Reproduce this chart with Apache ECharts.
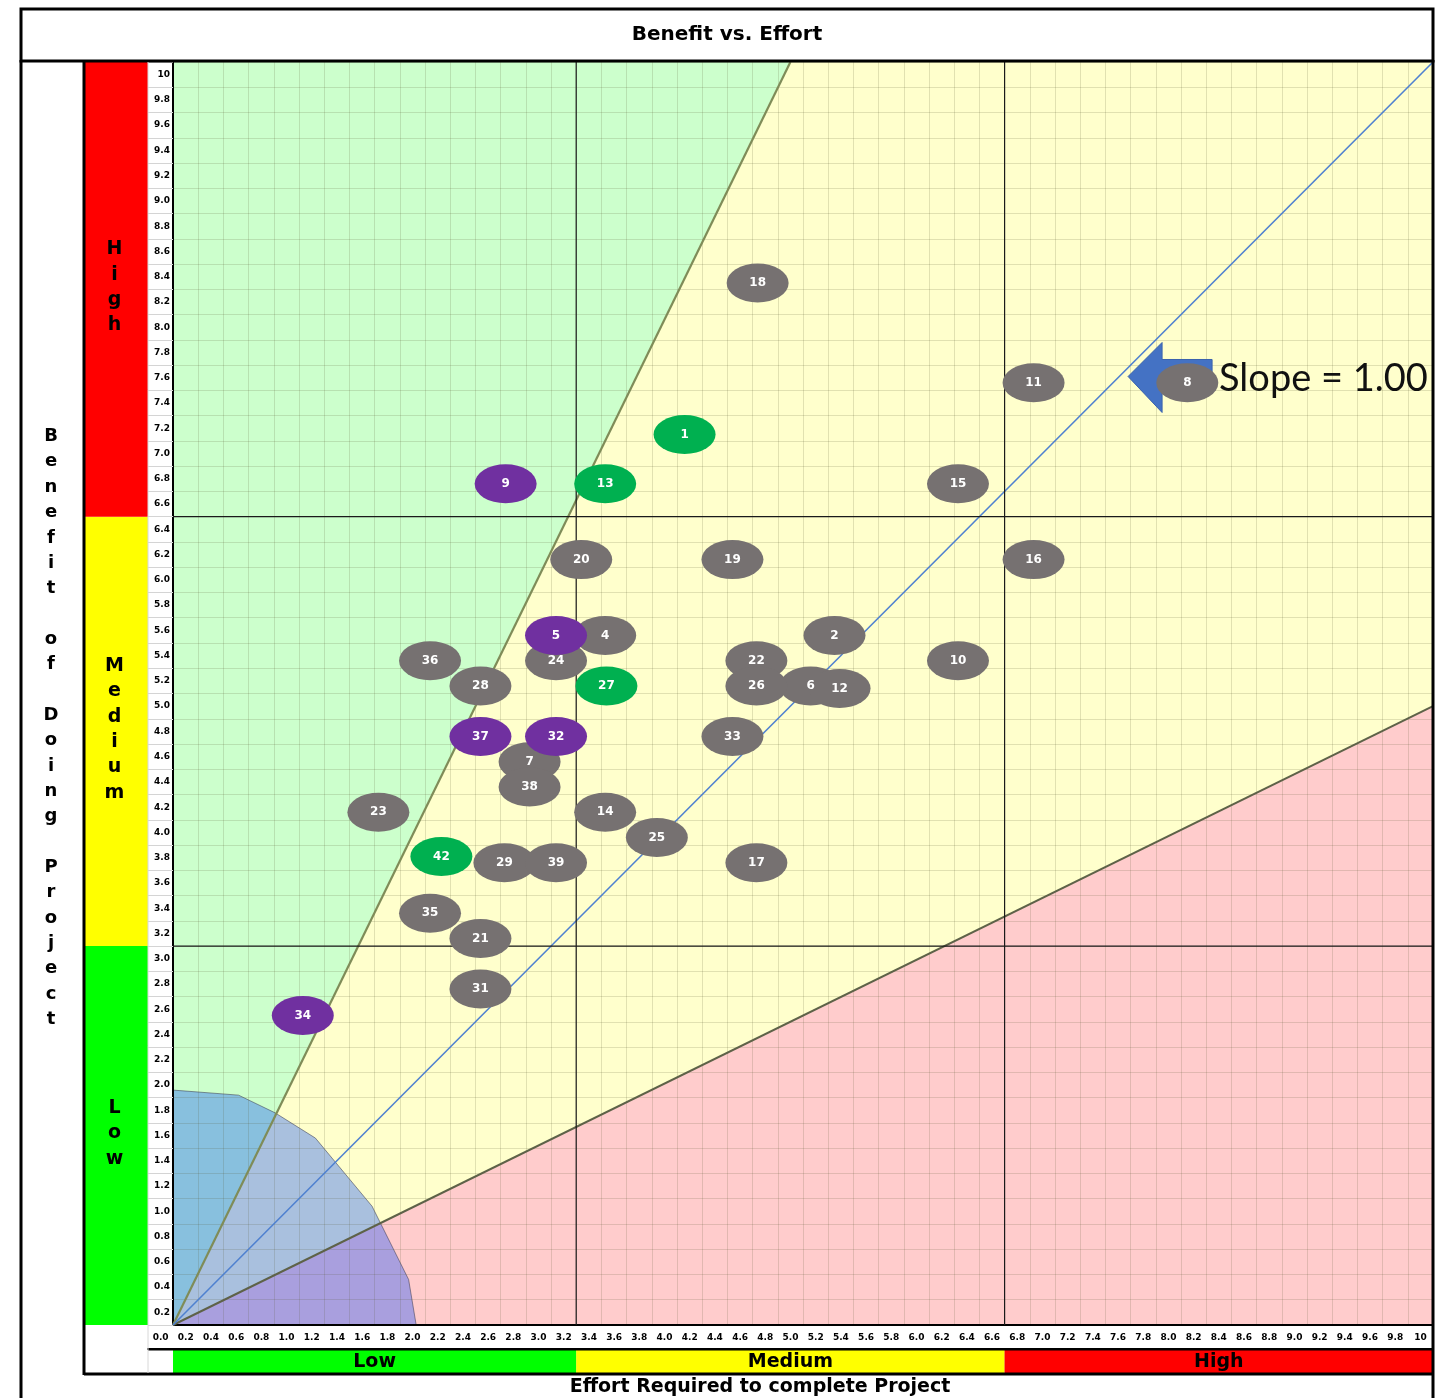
<!DOCTYPE html>
<html>
<head>
<meta charset="utf-8">
<title>Benefit vs. Effort</title>
<script src="https://cdn.jsdelivr.net/npm/echarts@6/dist/echarts.min.js"></script>
<style>
  html, body { margin: 0; padding: 0; background: #fff; }
  #chart { width: 1448px; height: 1398px; }
</style>
</head>
<body>
<div id="chart"></div>
<script>
// tick labels (spreadsheet style: each cell shows its upper edge)
const xTickLabels = ["0.0","0.2","0.4","0.6","0.8","1.0","1.2","1.4","1.6","1.8","2.0","2.2","2.4","2.6","2.8","3.0","3.2","3.4","3.6","3.8","4.0","4.2","4.4","4.6","4.8","5.0","5.2","5.4","5.6","5.8","6.0","6.2","6.4","6.6","6.8","7.0","7.2","7.4","7.6","7.8","8.0","8.2","8.4","8.6","8.8","9.0","9.2","9.4","9.6","9.8","10"];
const yTickLabels = ["0.2","0.4","0.6","0.8","1.0","1.2","1.4","1.6","1.8","2.0","2.2","2.4","2.6","2.8","3.0","3.2","3.4","3.6","3.8","4.0","4.2","4.4","4.6","4.8","5.0","5.2","5.4","5.6","5.8","6.0","6.2","6.4","6.6","6.8","7.0","7.2","7.4","7.6","7.8","8.0","8.2","8.4","8.6","8.8","9.0","9.2","9.4","9.6","9.8","10"];

// Low / Medium / High bands
const bandNames = ["Low", "Medium", "High"];
const effortBandEdges = [0, 3.2, 6.6, 10];
const benefitBandEdges = [0, 3.0, 6.4, 10];

// zones
const greenZone = [[0, 0], [0, 10], [4.9, 10]];
const yellowZone = [[0, 0], [4.9, 10], [10, 10], [10, 4.9]];
const redZone = [[0, 0], [10, 4.9], [10, 0]];
const quickWinZone = [[0, 0], [0, 1.86], [0.52, 1.82], [0.81, 1.68], [1.13, 1.48], [1.58, 0.94], [1.87, 0.36], [1.93, 0]];
const upperSlope = [[0, 0], [4.9, 10]];
const lowerSlope = [[0, 0], [10, 4.9]];
const unitSlope = [[0, 0], [10, 10]];

// projects: [id, effort, benefit]
const grayProjects = [
  ["2", 5.25, 5.46], ["4", 3.43, 5.46], ["6", 5.06, 5.06], ["7", 2.83, 4.46],
  ["8", 8.05, 7.46], ["10", 6.23, 5.26], ["11", 6.83, 7.46], ["12", 5.29, 5.04],
  ["14", 3.43, 4.06], ["15", 6.23, 6.66], ["16", 6.83, 6.06], ["17", 4.63, 3.66],
  ["18", 4.64, 8.25], ["19", 4.44, 6.06], ["20", 3.24, 6.06], ["21", 2.44, 3.06],
  ["22", 4.63, 5.26], ["23", 1.63, 4.06], ["24", 3.04, 5.26], ["25", 3.84, 3.86],
  ["26", 4.63, 5.06], ["28", 2.44, 5.06], ["29", 2.63, 3.66], ["31", 2.44, 2.66],
  ["33", 4.44, 4.66], ["35", 2.04, 3.26], ["36", 2.04, 5.26], ["38", 2.83, 4.26],
  ["39", 3.04, 3.66]
];
const greenProjects = [
  ["1", 4.06, 7.05], ["13", 3.43, 6.66], ["27", 3.44, 5.06], ["42", 2.13, 3.71]
];
const purpleProjects = [
  ["5", 3.04, 5.46], ["9", 2.64, 6.66], ["32", 3.04, 4.66], ["34", 1.03, 2.45], ["37", 2.44, 4.66]
];

const slopeArrowTip = [7.58, 7.51];
const slopeText = "Slope = 1.00";

const boldFont = "DejaVu Sans";
const chart = echarts.init(document.getElementById("chart"));

function zoneSeries(points, fill, z, stroke) {
  return {
    type: "custom", xAxisIndex: 0, yAxisIndex: 0, z: z, silent: true,
    data: [points[0]],
    renderItem: (params, api) => ({
      type: "polygon",
      shape: { points: points.map(p => api.coord(p)) },
      style: { fill: fill, stroke: stroke || null, lineWidth: stroke ? 1 : 0 }
    })
  };
}

function lineSeries(points, color, width, z) {
  return {
    type: "custom", xAxisIndex: 0, yAxisIndex: 0, z: z, silent: true,
    data: [points[0]],
    renderItem: (params, api) => ({
      type: "polyline",
      shape: { points: points.map(p => api.coord(p)) },
      style: { stroke: color, lineWidth: width, fill: null }
    })
  };
}

function splitSeries(values, vertical) {
  return {
    type: "custom", xAxisIndex: 0, yAxisIndex: 0, z: 4, silent: true,
    data: values.map(v => [v, v]),
    renderItem: (params, api) => {
      const v = api.value(0);
      const a = vertical ? api.coord([v, 0]) : api.coord([0, v]);
      const b = vertical ? api.coord([v, 10]) : api.coord([10, v]);
      return { type: "line", shape: { x1: a[0], y1: a[1], x2: b[0], y2: b[1] },
        style: { stroke: "#1a1a1a", lineWidth: 1.2 } };
    }
  };
}

function bubbleSeries(list, color) {
  return {
    type: "scatter", xAxisIndex: 0, yAxisIndex: 0, z: 6,
    symbol: "circle", symbolSize: [62, 39],
    itemStyle: { color: color, opacity: 1 },
    label: { show: true, position: "inside", formatter: "{b}", color: "#fff",
      fontFamily: boldFont, fontWeight: "bold", fontSize: 12 },
    emphasis: { disabled: true },
    data: list.map(p => ({ name: p[0], value: [p[1], p[2]] }))
  };
}

const bandColors = ["#00ff00", "#ffff00", "#ff0000"];
const gridLine = { show: true, lineStyle: { color: "rgba(90,90,50,0.18)", width: 1 } };

const option = {
  animation: false,
  backgroundColor: "#fff",
  grid: [
    { left: 173, top: 62, width: 1260, height: 1263, containLabel: false, outerBoundsMode: "none" },
    { left: 148, top: 1325, width: 1285, height: 24, containLabel: false, outerBoundsMode: "none" },
    { left: 173, top: 1350, width: 1260, height: 23, containLabel: false, outerBoundsMode: "none" },
    { left: 85, top: 62, width: 63, height: 1263, containLabel: false, outerBoundsMode: "none" }
  ],
  xAxis: [
    { gridIndex: 0, type: "value", min: 0, max: 10, interval: 0.2, z: 3,
      axisLine: { show: true, lineStyle: { color: "#000", width: 2 } },
      axisTick: { show: false }, axisLabel: { show: false },
      splitLine: gridLine },
    { gridIndex: 1, type: "category", position: "top", data: xTickLabels, z: 3,
      axisLine: { show: true, lineStyle: { color: "#000", width: 2 } },
      axisTick: { show: true, inside: true, length: 23, interval: 0, lineStyle: { color: "#d4d4d4" } },
      axisLabel: { show: true, inside: true, interval: 0, margin: 8, fontSize: 9, fontWeight: "bold",
        fontFamily: boldFont, color: "#000" },
      splitLine: { show: false } },
    { gridIndex: 2, type: "value", min: 0, max: 10, show: false },
    { gridIndex: 3, type: "value", min: 0, max: 1, show: false }
  ],
  yAxis: [
    { gridIndex: 0, type: "value", min: 0, max: 10, interval: 0.2, position: "left", z: 3,
      axisLine: { show: true, lineStyle: { color: "#000", width: 2 } },
      axisTick: { show: false }, axisLabel: { show: false },
      splitLine: gridLine },
    { gridIndex: 0, type: "category", position: "left", data: yTickLabels, z: 3,
      axisLine: { show: false },
      axisTick: { show: true, length: 25, interval: 0, lineStyle: { color: "#d4d4d4" } },
      axisLabel: { show: true, interval: 0, margin: 3, fontSize: 9, fontWeight: "bold",
        fontFamily: boldFont, color: "#000" },
      splitLine: { show: false } },
    { gridIndex: 1, type: "value", min: 0, max: 1, show: false },
    { gridIndex: 2, type: "value", min: 0, max: 1, show: false },
    { gridIndex: 3, type: "value", min: 0, max: 10, show: false }
  ],
  series: [
    zoneSeries(greenZone, "#ccffcc", 1),
    zoneSeries(yellowZone, "#ffffcc", 1),
    zoneSeries(redZone, "#ffcccc", 1),
    zoneSeries(quickWinZone, "rgba(10,75,255,0.35)", 2, "rgba(60,60,80,0.55)"),
    lineSeries(upperSlope, "#7f8c58", 2.2, 4),
    lineSeries(lowerSlope, "#5e6248", 2, 4),
    lineSeries(unitSlope, "#4f81d0", 1.6, 4),
    splitSeries([effortBandEdges[1], effortBandEdges[2]], true),
    splitSeries([benefitBandEdges[1], benefitBandEdges[2]], false),
    {
      type: "custom", xAxisIndex: 0, yAxisIndex: 0, z: 5, silent: true, clip: true,
      data: [slopeArrowTip],
      renderItem: (params, api) => {
        const p = api.coord([api.value(0), api.value(1)]);
        const shape = [[0, 0], [34, -34], [34, -17], [84, -17], [84, 17], [34, 17], [34, 36]];
        return { type: "polygon", shape: { points: shape.map(o => [p[0] + o[0], p[1] + o[1]]) },
          style: { fill: "#4472c4", stroke: "#3a62ad", lineWidth: 1 } };
      }
    },
    bubbleSeries(grayProjects, "#767171"),
    bubbleSeries(greenProjects, "#00b050"),
    bubbleSeries(purpleProjects, "#7030a0"),
    {
      type: "custom", xAxisIndex: 0, yAxisIndex: 0, z: 7, silent: true, clip: true,
      data: [slopeArrowTip],
      renderItem: (params, api) => {
        const p = api.coord([api.value(0), api.value(1)]);
        return { type: "text", x: p[0] + 91, y: p[1] + 2,
          style: { text: slopeText, fill: "#111", font: "38px Lato", verticalAlign: "middle", align: "left" } };
      }
    },
    {
      type: "custom", xAxisIndex: 2, yAxisIndex: 3, z: 8, silent: true,
      data: bandNames.map((n, i) => [effortBandEdges[i], effortBandEdges[i + 1], i]),
      renderItem: (params, api) => {
        const a = api.coord([api.value(0), 0]);
        const b = api.coord([api.value(1), 1]);
        const i = api.value(2);
        return {
          type: "group",
          children: [
            { type: "rect", shape: { x: a[0], y: b[1], width: b[0] - a[0], height: a[1] - b[1] },
              style: { fill: bandColors[i] } },
            { type: "text", x: (a[0] + b[0]) / 2, y: (a[1] + b[1]) / 2 + 1,
              style: { text: bandNames[i], fill: "#000", align: "center", verticalAlign: "middle",
                font: "bold 19px '" + boldFont + "'" } }
          ]
        };
      }
    },
    {
      type: "custom", xAxisIndex: 3, yAxisIndex: 4, z: 8, silent: true,
      data: bandNames.map((n, i) => [benefitBandEdges[i], benefitBandEdges[i + 1], i]),
      renderItem: (params, api) => {
        const a = api.coord([0, api.value(0)]);
        const b = api.coord([1, api.value(1)]);
        const i = api.value(2);
        return {
          type: "group",
          children: [
            { type: "rect", shape: { x: a[0], y: b[1], width: b[0] - a[0], height: a[1] - b[1] },
              style: { fill: bandColors[i] } },
            { type: "text", x: (a[0] + b[0]) / 2 - 2, y: (a[1] + b[1]) / 2 - 2,
              style: { text: bandNames[i].split("").join("\n"), fill: "#000", align: "center",
                verticalAlign: "middle", lineHeight: 25.4, font: "bold 19px '" + boldFont + "'" } }
          ]
        };
      }
    }
  ],
  graphic: [
    { type: "rect", z: 100, shape: { x: 21, y: 9, width: 1412, height: 52 },
      style: { fill: "#fff", stroke: "#000", lineWidth: 3 } },
    { type: "text", z: 101, x: 727, y: 35,
      style: { text: "Benefit vs. Effort", fill: "#000", align: "center", verticalAlign: "middle",
        font: "bold 20px '" + boldFont + "'" } },
    { type: "rect", z: 99, shape: { x: 86, y: 1350, width: 86, height: 23 }, style: { fill: "#fff" } },
    { type: "line", z: 100, shape: { x1: 21, y1: 60, x2: 21, y2: 1398 }, style: { stroke: "#000", lineWidth: 3 } },
    { type: "line", z: 100, shape: { x1: 84, y1: 61, x2: 84, y2: 1375 }, style: { stroke: "#000", lineWidth: 3 } },
    { type: "line", z: 100, shape: { x1: 1433, y1: 60, x2: 1433, y2: 1398 }, style: { stroke: "#000", lineWidth: 3 } },
    { type: "line", z: 100, shape: { x1: 148, y1: 1349.5, x2: 1433, y2: 1349.5 }, style: { stroke: "#000", lineWidth: 2 } },
    { type: "line", z: 100, shape: { x1: 84, y1: 1374, x2: 1433, y2: 1374 }, style: { stroke: "#000", lineWidth: 3 } },
    { type: "line", z: 100, shape: { x1: 148, y1: 62, x2: 148, y2: 1373 }, style: { stroke: "#d8d8d8", lineWidth: 1 } },
    { type: "text", z: 101, x: 760, y: 1387,
      style: { text: "Effort Required to complete Project", fill: "#000", align: "center", verticalAlign: "middle",
        font: "bold 19px '" + boldFont + "'" } },
    { type: "text", z: 101, x: 51, y: 728,
      style: { text: "Benefit of Doing Project".split("").join("\n"), fill: "#000", align: "center",
        verticalAlign: "middle", lineHeight: 25.35, font: "bold 18px '" + boldFont + "'" } }
  ]
};

chart.setOption(option);
window.addEventListener("resize", () => {
  chart && chart.resize();
});
</script>
</body>
</html>
